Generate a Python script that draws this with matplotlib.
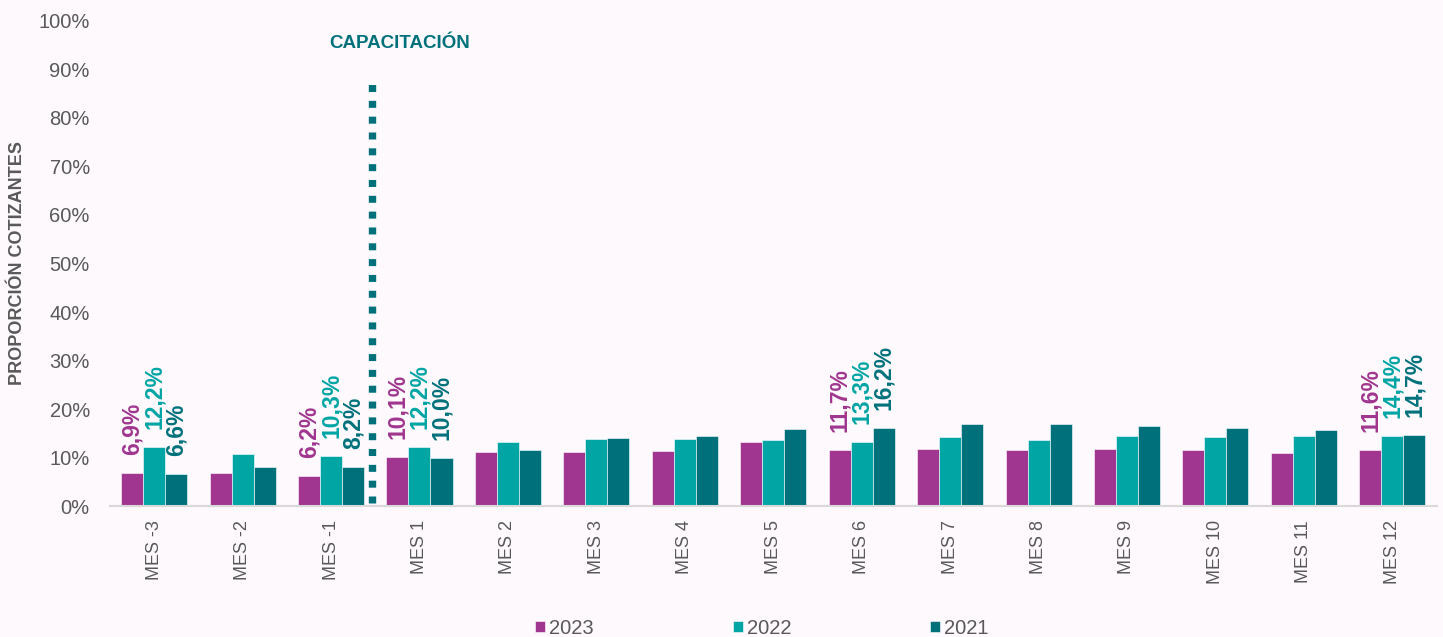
import numpy as np
import matplotlib
matplotlib.use("Agg")
import matplotlib.pyplot as plt
from matplotlib.ticker import FuncFormatter

plt.rcParams['font.family'] = ['Liberation Sans', 'DejaVu Sans']

# data
categories = ["MES -3", "MES -2", "MES -1", "MES 1", "MES 2", "MES 3", "MES 4", "MES 5",
              "MES 6", "MES 7", "MES 8", "MES 9", "MES 10", "MES 11", "MES 12"]
series_names = ["2023", "2022", "2021"]
vals_2023 = [6.9, 6.8, 6.2, 10.1, 11.3, 11.3, 11.5, 13.3, 11.7, 11.9, 11.6, 11.8, 11.6, 11.1, 11.6]
vals_2022 = [12.2, 10.8, 10.3, 12.2, 13.3, 13.9, 13.9, 13.6, 13.3, 14.2, 13.7, 14.6, 14.2, 14.6, 14.4]
vals_2021 = [6.6, 8.1, 8.2, 10.0, 11.6, 14.0, 14.6, 15.9, 16.2, 16.9, 16.9, 16.5, 16.2, 15.8, 14.7]
labelled = ["MES -3", "MES -1", "MES 1", "MES 6", "MES 12"]
marker_label = "CAPACITACIÓN"

colors = ["#a0368f", "#00a5a4", "#00717b"]
bg = "#fdf9fd"
grey = "#595959"

fig = plt.figure(figsize=(14.43, 6.37), dpi=100, facecolor=bg)
ax = fig.add_axes([0.0762, 0.2049, 0.9193, 0.763])
ax.set_facecolor(bg)

x = np.arange(len(categories))
w = 0.249
all_vals = [vals_2023, vals_2022, vals_2021]
for i, (vals, name, c) in enumerate(zip(all_vals, series_names, colors)):
    pos = x + (i - 1) * w
    ax.bar(pos, vals, width=w, color=c, edgecolor="white", linewidth=0.4, label=name)
    for p, v, cat in zip(pos, vals, categories):
        if cat in labelled:
            ax.annotate(f"{v:.1f}%".replace(".", ","), (p, v), xytext=(0, 13),
                        textcoords="offset points", rotation=90, ha="center", va="bottom",
                        fontsize=16.5, fontweight="bold", color=c)

# dotted marker line between MES -1 and MES 1
ax.plot([2.46, 2.46], [0.7, 88.2], color=colors[2], linewidth=5.3,
        linestyle=(0, (0.95, 1.2)), dash_capstyle="butt")
ax.text(2.78, 95.2, marker_label, ha="center", va="center", fontsize=13.5,
        fontweight="bold", color=colors[2])

ax.set_xlim(-0.5, len(categories) - 0.5)
ax.set_ylim(0, 100)
ax.set_yticks(np.arange(0, 101, 10))
ax.yaxis.set_major_formatter(FuncFormatter(lambda v, _: f"{v:.0f}%"))
ax.set_xticks(x)
ax.set_xticklabels(categories, rotation=90)
ax.tick_params(axis="y", length=0, pad=14.5, labelsize=14.5, labelcolor=grey)
ax.tick_params(axis="x", length=0, pad=10, labelsize=13, labelcolor=grey)

for s in ["top", "right", "left"]:
    ax.spines[s].set_visible(False)
ax.spines["bottom"].set_color("#d9d9d9")
ax.spines["bottom"].set_linewidth(1.5)

ax.set_ylabel("PROPORCIÓN COTIZANTES", fontsize=13, fontweight="bold", color=grey)
ax.yaxis.set_label_coords(-0.063, 0.5)

fig.legend(loc="center", bbox_to_anchor=(0.528, 0.014), ncol=3, frameon=False,
           fontsize=14.5, handlelength=0.5, handleheight=0.5, handletextpad=0.2,
           columnspacing=6.9, labelcolor=grey)

fig.savefig("out.png", dpi=100, facecolor=bg)
